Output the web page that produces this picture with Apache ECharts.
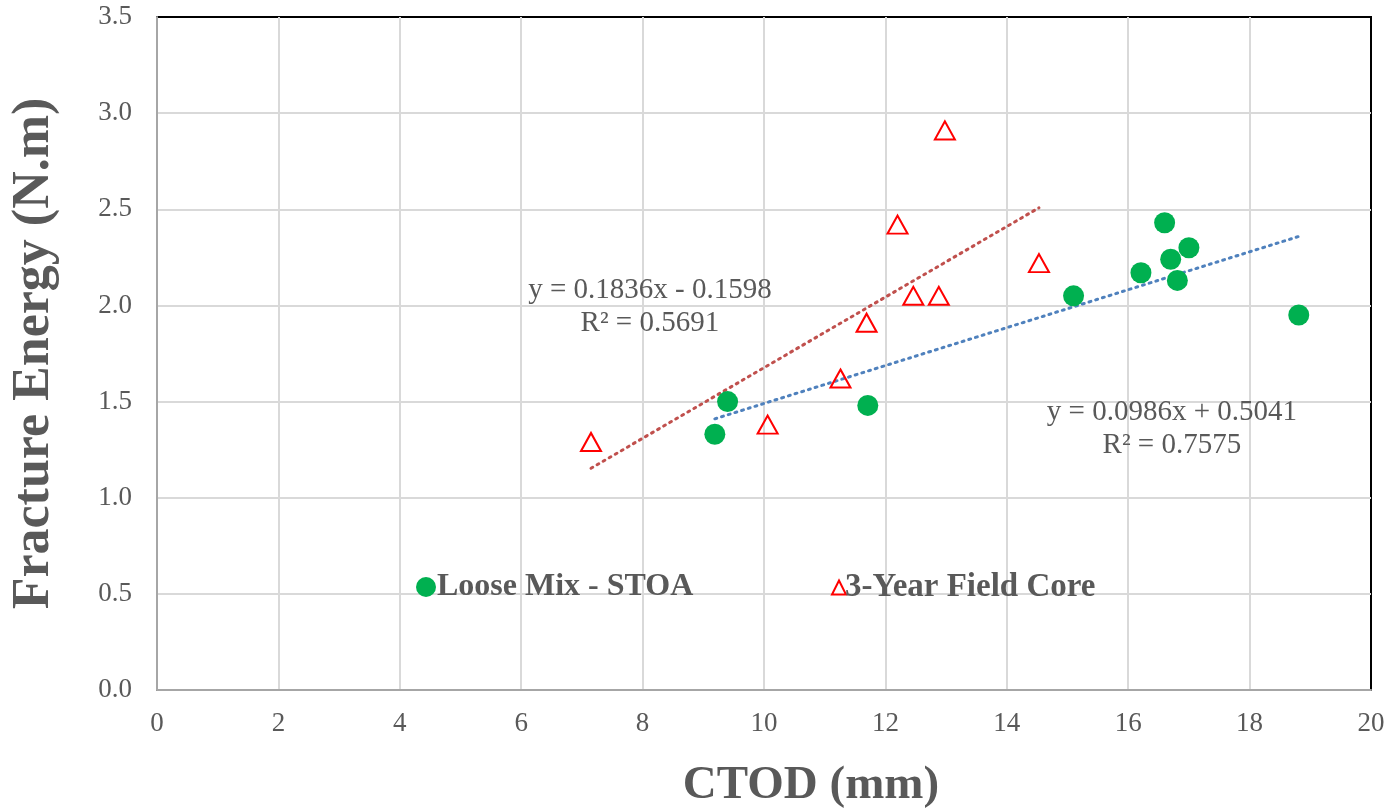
<!DOCTYPE html>
<html>
<head>
<meta charset="utf-8">
<script src="https://cdn.jsdelivr.net/npm/echarts@6/dist/echarts.min.js"></script>
<style>
  html, body { margin: 0; padding: 0; background: #fff; }
  #chart { width: 1392px; height: 808px; }
</style>
</head>
<body>
<div id="chart"></div>
<script>
// Loose Mix - STOA : [CTOD, Fracture Energy]
const looseMix = [
  [9.19, 1.33], [9.40, 1.50], [11.71, 1.48], [15.10, 2.05], [16.21, 2.17],
  [16.60, 2.43], [16.70, 2.24], [16.81, 2.13], [17.00, 2.30], [18.81, 1.95]
];
// 3-Year Field Core
const fieldCore = [
  [7.15, 1.29], [10.06, 1.38], [11.26, 1.62], [11.69, 1.91], [12.20, 2.42],
  [12.46, 2.05], [12.88, 2.05], [12.98, 2.91], [14.53, 2.22]
];
// trendline coefficients [slope, intercept] and x range
const looseFit = [0.0986, 0.5041];
const looseFitRange = [9.19, 18.81];
const looseR2 = '0.7575';
const coreFit = [0.1836, -0.1598];
const coreFitRange = [7.15, 14.53];
const coreR2 = '0.5691';

const fitLine = (fit, range) => range.map(x => [x, fit[0] * x + fit[1]]);

const serif = '"Liberation Serif", "Times New Roman", serif';
const grey = '#595959';

const chart = echarts.init(document.getElementById('chart'));
const option = {
  animation: false,
  grid: {
    left: 157, right: 21, top: 17, bottom: 118,
    outerBoundsMode: 'none',
    show: true, borderColor: '#000', borderWidth: 2, backgroundColor: '#fff'
  },
  legend: [
    {
      left: 411, top: 566,
      data: [{ name: 'Loose Mix - STOA', icon: 'circle' }],
      itemWidth: 20, itemHeight: 20, itemGap: 0,
      itemStyle: { opacity: 1 },
      textStyle: { fontFamily: serif, fontSize: 32, fontWeight: 'bold', color: grey, padding: [0, 0, 0, -4] }
    },
    {
      left: 826, top: 566,
      data: [{ name: '3-Year Field Core', icon: 'triangle' }],
      itemWidth: 14, itemHeight: 14, itemGap: 0,
      itemStyle: { color: '#fff', borderColor: '#FF0000', borderWidth: 2, opacity: 1 },
      textStyle: { fontFamily: serif, fontSize: 33, fontWeight: 'bold', color: grey, padding: [0, 0, 0, -6] }
    }
  ],
  xAxis: {
    type: 'value', min: 0, max: 20, interval: 2,
    name: 'CTOD (mm)', nameLocation: 'middle', nameGap: 72,
    nameTextStyle: { fontFamily: serif, fontSize: 47, fontWeight: 'bold', color: grey, padding: [0, 0, 0, 94] },
    axisLine: { show: true, lineStyle: { color: '#A6A6A6', width: 2 } },
    axisTick: { show: false },
    axisLabel: { fontFamily: serif, fontSize: 27, color: grey, margin: 20 },
    splitLine: { show: true, showMinLine: false, showMaxLine: false, lineStyle: { color: '#D9D9D9', width: 2 } }
  },
  yAxis: {
    type: 'value', min: 0, max: 3.5, interval: 0.5,
    name: 'Fracture Energy (N.m)', nameLocation: 'middle', nameGap: 96,
    nameTextStyle: { fontFamily: serif, fontSize: 52, fontWeight: 'bold', color: grey },
    axisLine: { show: true, lineStyle: { color: '#A6A6A6', width: 2 } },
    axisTick: { show: false },
    axisLabel: { fontFamily: serif, fontSize: 27, color: grey, margin: 25, formatter: v => v.toFixed(1) },
    splitLine: { show: true, showMinLine: false, showMaxLine: false, lineStyle: { color: '#D9D9D9', width: 2 } }
  },
  series: [
    {
      name: 'Loose Mix - STOA trend', type: 'line', data: fitLine(looseFit, looseFitRange),
      symbol: 'none', z: 3,
      lineStyle: { color: '#4F81BD', width: 3, type: [2, 5], cap: 'round' },
      markPoint: {
        symbol: 'circle', symbolSize: 0,
        data: [{ coord: [16.72, 1.36] }],
        label: {
          show: true, position: 'inside', fontFamily: serif, fontSize: 29, lineHeight: 33,
          color: grey, align: 'center',
          formatter: 'y = ' + looseFit[0].toFixed(4) + 'x + ' + looseFit[1].toFixed(4) + '\nR² = ' + looseR2
        }
      }
    },
    {
      name: '3-Year Field Core trend', type: 'line', data: fitLine(coreFit, coreFitRange),
      symbol: 'none', z: 3,
      lineStyle: { color: '#C0504D', width: 3, type: [2, 5], cap: 'round' },
      markPoint: {
        symbol: 'circle', symbolSize: 0,
        data: [{ coord: [8.12, 1.99] }],
        label: {
          show: true, position: 'inside', fontFamily: serif, fontSize: 29, lineHeight: 33,
          color: grey, align: 'center',
          formatter: 'y = ' + coreFit[0].toFixed(4) + 'x - ' + Math.abs(coreFit[1]).toFixed(4) + '\nR² = ' + coreR2
        }
      }
    },
    {
      name: 'Loose Mix - STOA', type: 'scatter', data: looseMix,
      symbol: 'circle', symbolSize: 21, z: 4,
      itemStyle: { color: '#00B050', opacity: 1 }
    },
    {
      name: '3-Year Field Core', type: 'scatter', data: fieldCore,
      symbol: 'triangle', symbolSize: [20, 18], z: 4,
      itemStyle: { color: 'rgba(255,255,255,0)', borderColor: '#FF0000', borderWidth: 2, opacity: 1 }
    }
  ]
};
chart.setOption(option);
window.addEventListener('resize', chart.resize);
</script>
</body>
</html>
